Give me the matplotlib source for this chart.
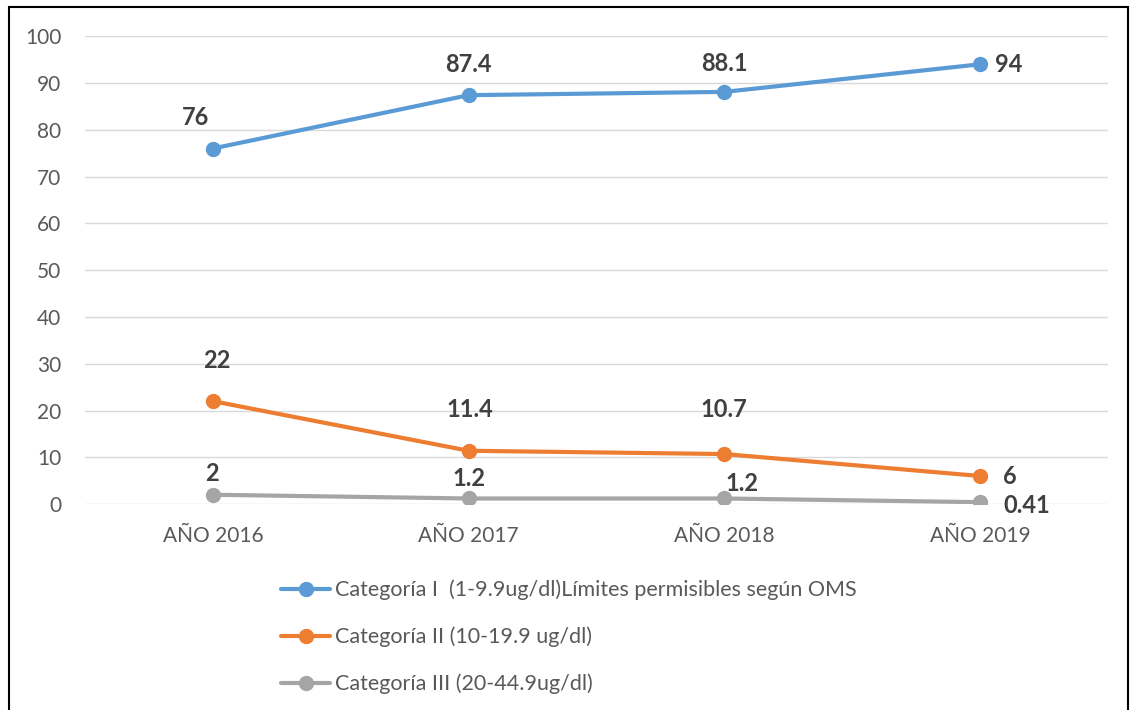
import matplotlib.pyplot as plt
from matplotlib.patches import Rectangle

plt.rcParams['font.family'] = ['Lato', 'DejaVu Sans']

years = ["AÑO 2016", "AÑO 2017", "AÑO 2018", "AÑO 2019"]
cat1 = [76, 87.4, 88.1, 94]
cat2 = [22, 11.4, 10.7, 6]
cat3 = [2, 1.2, 1.2, 0.41]
cat3_labels = ["2", "1.2", "1.2", "0.41"]
names = ["Categoría I  (1-9.9ug/dl)Límites permisibles según OMS",
         "Categoría II (10-19.9 ug/dl)",
         "Categoría III (20-44.9ug/dl)"]
colors = ["#5B9BD5", "#ED7D31", "#A5A5A5"]

# label offsets in pixels (dx, dy, ha)
offs1 = [(-17, 31, 'center'), (0, 31, 'center'), (0, 28, 'center'), (15, 0, 'left')]
offs2 = [(4, 41, 'center'), (1, 41, 'center'), (0, 45, 'center'), (23, 0, 'left')]
offs3 = [(-1, 21, 'center'), (0, 20, 'center'), (18, 15, 'center'), (23, -3, 'left')]

fig = plt.figure(figsize=(11.3, 7.1), dpi=100)
ax = fig.add_axes([0.0752, 0.290, 0.9053, 0.659])
x = range(len(years))

series = [cat1, cat2, cat3]
labels = [[f"{v:g}" for v in cat1], [f"{v:g}" for v in cat2], cat3_labels]
offsets = [offs1, offs2, offs3]
for vals, lab, offs, c, n in zip(series, labels, offsets, colors, names):
    ax.plot(x, vals, color=c, lw=3, marker='o', ms=10, label=n, solid_capstyle='round')
    for xi, v, t, (dx, dy, ha) in zip(x, vals, lab, offs):
        ax.annotate(t, (xi, v), xytext=(dx, dy), textcoords='offset pixels',
                    ha=ha, va='center', fontsize=17, fontweight='bold', color='#404040')

ax.set_xlim(-0.5, 3.5)
ax.set_ylim(0, 100)
ax.set_yticks(range(0, 101, 10))
ax.set_xticks(list(x))
ax.set_xticklabels(years)
ax.grid(axis='y', color='#D9D9D9', lw=1)
ax.set_axisbelow(True)
for s in ax.spines.values():
    s.set_visible(False)
ax.tick_params(length=0, labelsize=15, labelcolor='#595959')
ax.tick_params(axis='x', pad=16)
ax.tick_params(axis='y', pad=17)

fig.legend(loc='upper left', bbox_to_anchor=(0.239, 0.199), frameon=False,
           fontsize=15.5, labelcolor='#595959', handlelength=2.3, handletextpad=0.2,
           labelspacing=1.23, borderpad=0)

fig.patches.append(Rectangle((0.008, -0.01), 0.99, 1.0, transform=fig.transFigure,
                             fill=False, edgecolor='black', lw=1.5))
fig.savefig("out.png", dpi=100)
